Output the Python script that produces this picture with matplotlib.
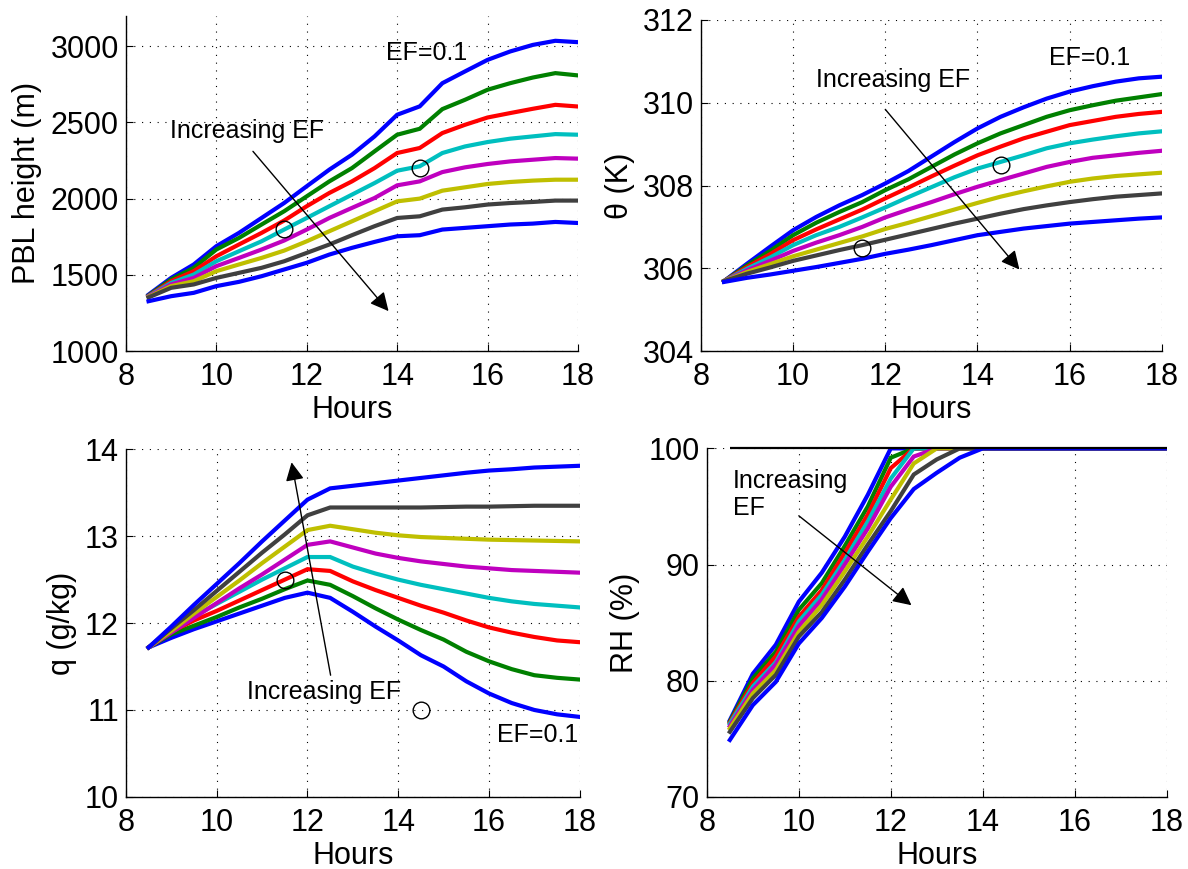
#!/usr/bin/env python3
"""Diurnal PBL growth for a range of evaporative fractions (EF), 4-panel figure."""

import matplotlib

matplotlib.use("Agg")

import matplotlib.pyplot as plt
import numpy as np

HOURS = [8.5, 9, 9.5, 10, 10.5, 11, 11.5, 12, 12.5, 13, 13.5, 14, 14.5, 15, 15.5, 16, 16.5, 17, 17.5, 18]

# MATLAB default colour order, EF=0.1 first
LINE_COLORS = ["#0000ff", "#008000", "#ff0000", "#00bfbf", "#bf00bf", "#bfbf00", "#404040", "#0000ff"]

PBL_HEIGHT = [
    [1370, 1480, 1568, 1688, 1775, 1873, 1971, 2081, 2190, 2288, 2408, 2550, 2605, 2757, 2834, 2910, 2965, 3008, 3035, 3026],
    [1365, 1470, 1546, 1666, 1742, 1830, 1917, 2015, 2113, 2200, 2310, 2419, 2458, 2587, 2648, 2714, 2757, 2794, 2823, 2808],
    [1362, 1458, 1524, 1622, 1699, 1775, 1856, 1950, 2037, 2113, 2200, 2299, 2332, 2430, 2484, 2532, 2561, 2589, 2615, 2604],
    [1360, 1447, 1502, 1589, 1655, 1720, 1797, 1873, 1950, 2026, 2102, 2183, 2212, 2299, 2342, 2371, 2393, 2408, 2423, 2419],
    [1358, 1437, 1480, 1557, 1611, 1666, 1725, 1797, 1873, 1939, 2004, 2087, 2113, 2174, 2205, 2227, 2244, 2255, 2266, 2262],
    [1355, 1426, 1458, 1524, 1568, 1611, 1659, 1720, 1786, 1851, 1917, 1982, 2000, 2052, 2074, 2096, 2109, 2118, 2124, 2124],
    [1352, 1415, 1437, 1480, 1513, 1546, 1589, 1644, 1699, 1760, 1819, 1873, 1884, 1928, 1943, 1961, 1971, 1978, 1987, 1987],
    [1327, 1360, 1382, 1426, 1454, 1491, 1535, 1579, 1633, 1677, 1716, 1753, 1760, 1797, 1808, 1819, 1830, 1836, 1847, 1840],
]

THETA = [
    [305.69, 306.11, 306.52, 306.92, 307.24, 307.52, 307.77, 308.05, 308.35, 308.70, 309.05, 309.38, 309.66, 309.89, 310.10, 310.27, 310.40, 310.51, 310.59, 310.63],
    [305.69, 306.07, 306.42, 306.80, 307.10, 307.36, 307.60, 307.89, 308.15, 308.45, 308.75, 309.02, 309.26, 309.46, 309.66, 309.82, 309.94, 310.05, 310.13, 310.21],
    [305.69, 306.03, 306.34, 306.68, 306.94, 307.18, 307.42, 307.69, 307.95, 308.22, 308.48, 308.73, 308.94, 309.14, 309.30, 309.46, 309.56, 309.66, 309.73, 309.78],
    [305.69, 305.99, 306.26, 306.56, 306.80, 307.00, 307.23, 307.47, 307.72, 307.96, 308.20, 308.41, 308.57, 308.73, 308.90, 309.02, 309.11, 309.19, 309.26, 309.31],
    [305.69, 305.95, 306.18, 306.42, 306.62, 306.80, 307.00, 307.23, 307.42, 307.60, 307.79, 307.97, 308.13, 308.29, 308.45, 308.57, 308.67, 308.73, 308.79, 308.84],
    [305.69, 305.91, 306.10, 306.29, 306.45, 306.61, 306.77, 306.95, 307.10, 307.26, 307.42, 307.58, 307.73, 307.86, 307.98, 308.09, 308.17, 308.23, 308.27, 308.31],
    [305.69, 305.87, 306.02, 306.18, 306.31, 306.44, 306.56, 306.69, 306.82, 306.95, 307.08, 307.20, 307.32, 307.43, 307.52, 307.60, 307.67, 307.73, 307.77, 307.81],
    [305.67, 305.77, 305.85, 305.94, 306.03, 306.13, 306.23, 306.35, 306.45, 306.56, 306.68, 306.80, 306.88, 306.96, 307.02, 307.08, 307.12, 307.16, 307.20, 307.23],
]

HUMIDITY = [
    [11.72, 11.83, 11.93, 12.02, 12.11, 12.20, 12.29, 12.35, 12.29, 12.13, 11.96, 11.80, 11.63, 11.50, 11.33, 11.19, 11.08, 11.00, 10.95, 10.92],
    [11.72, 11.87, 11.97, 12.07, 12.18, 12.28, 12.39, 12.49, 12.44, 12.31, 12.17, 12.04, 11.92, 11.81, 11.67, 11.56, 11.47, 11.40, 11.37, 11.35],
    [11.72, 11.90, 12.03, 12.14, 12.26, 12.38, 12.50, 12.62, 12.60, 12.48, 12.38, 12.29, 12.20, 12.12, 12.03, 11.95, 11.89, 11.84, 11.80, 11.78],
    [11.72, 11.92, 12.08, 12.22, 12.36, 12.50, 12.63, 12.76, 12.76, 12.65, 12.57, 12.50, 12.44, 12.39, 12.34, 12.29, 12.25, 12.22, 12.20, 12.18],
    [11.72, 11.89, 12.06, 12.23, 12.40, 12.56, 12.73, 12.90, 12.94, 12.87, 12.80, 12.75, 12.71, 12.68, 12.65, 12.63, 12.61, 12.60, 12.59, 12.58],
    [11.72, 11.91, 12.11, 12.30, 12.49, 12.69, 12.88, 13.07, 13.12, 13.08, 13.04, 13.01, 12.99, 12.98, 12.97, 12.96, 12.955, 12.95, 12.945, 12.94],
    [11.72, 11.94, 12.15, 12.37, 12.59, 12.81, 13.02, 13.24, 13.33, 13.33, 13.33, 13.33, 13.33, 13.335, 13.34, 13.34, 13.345, 13.35, 13.35, 13.35],
    [11.72, 11.96, 12.21, 12.45, 12.69, 12.94, 13.18, 13.42, 13.55, 13.58, 13.61, 13.64, 13.67, 13.70, 13.73, 13.755, 13.77, 13.79, 13.80, 13.81],
]

REL_HUMIDITY = [
    [76.6, 80.6, 83.1, 86.8, 89.3, 92.4, 96.0, 100, 100, 100, 100, 100, 100, 100, 100, 100, 100, 100, 100, 100],
    [76.5, 80.2, 82.5, 86.1, 88.4, 91.6, 95.0, 99.2, 100, 100, 100, 100, 100, 100, 100, 100, 100, 100, 100, 100],
    [76.4, 79.8, 82.1, 85.5, 87.8, 91.0, 94.3, 98.3, 100, 100, 100, 100, 100, 100, 100, 100, 100, 100, 100, 100],
    [76.3, 79.5, 81.6, 85.1, 87.4, 90.4, 93.7, 97.4, 100, 100, 100, 100, 100, 100, 100, 100, 100, 100, 100, 100],
    [76.1, 79.2, 81.4, 84.7, 87.0, 90.0, 93.1, 96.7, 99.3, 100, 100, 100, 100, 100, 100, 100, 100, 100, 100, 100],
    [75.9, 78.9, 80.9, 84.2, 86.5, 89.4, 92.4, 95.6, 98.7, 100, 100, 100, 100, 100, 100, 100, 100, 100, 100, 100],
    [75.6, 78.5, 80.5, 83.8, 85.9, 88.7, 91.7, 94.6, 97.75, 99.05, 100, 100, 100, 100, 100, 100, 100, 100, 100, 100],
    [74.9, 77.9, 79.9, 83.2, 85.4, 88.1, 91.1, 94.0, 96.5, 97.9, 99.2, 100, 100, 100, 100, 100, 100, 100, 100, 100],
]
RH_SATURATION = 100

# observed points (circles)
PBL_OBS_X, PBL_OBS_Y = [11.5, 14.5], [1800, 2200]
THETA_OBS_X, THETA_OBS_Y = [11.5, 14.5], [306.5, 308.5]
Q_OBS_X, Q_OBS_Y = [11.5, 14.5], [12.5, 11.0]

NOTE_SIZE = 18


def setup_style() -> None:
    plt.rcParams.update(
        {
            "font.family": ["Liberation Sans", "DejaVu Sans"],
            "font.size": 22,
            "axes.labelsize": 22,
            "xtick.labelsize": 22,
            "ytick.labelsize": 22,
            "axes.linewidth": 1.0,
            "axes.spines.top": False,
            "axes.spines.right": False,
            "xtick.direction": "in",
            "ytick.direction": "in",
            "xtick.major.size": 5,
            "ytick.major.size": 5,
            "xtick.major.pad": 8,
            "ytick.major.pad": 5,
        }
    )


def style_axes(ax, ylim, yticks, ylabel):
    ax.set_xlim(8, 18)
    ax.set_xticks(np.arange(8, 19, 2))
    ax.set_ylim(*ylim)
    ax.set_yticks(yticks)
    ax.set_xlabel("Hours", labelpad=2)
    ax.set_ylabel(ylabel, labelpad=6)
    ax.grid(True, color="black", linestyle=(0, (1, 6)), linewidth=0.8)
    ax.set_axisbelow(True)


def plot_family(ax, series):
    for values, color in zip(series, LINE_COLORS):
        ax.plot(HOURS, values, color=color, linewidth=3.0, solid_joinstyle="miter")


def arrow(ax, start, end):
    ax.annotate(
        "",
        xy=end,
        xytext=start,
        arrowprops=dict(arrowstyle="-|>", color="black", lw=1.0, mutation_scale=28, shrinkA=0, shrinkB=0),
    )


def main() -> None:
    setup_style()
    fig = plt.figure(figsize=(11.88, 8.69), dpi=100)

    # (a) PBL height
    ax = fig.add_axes([0.106, 0.596, 0.3805, 0.386])
    plot_family(ax, PBL_HEIGHT)
    ax.plot(PBL_OBS_X, PBL_OBS_Y, "o", mfc="none", mec="black", ms=12, mew=1.0)
    style_axes(ax, (1000, 3200), np.arange(1000, 3001, 500), "PBL height (m)")
    ax.text(10.68, 2441, "Increasing EF", ha="center", va="center", fontsize=NOTE_SIZE)
    ax.text(14.66, 2954, "EF=0.1", ha="center", va="center", fontsize=NOTE_SIZE)
    arrow(ax, (10.81, 2310), (13.81, 1262))

    # (b) potential temperature
    ax = fig.add_axes([0.590, 0.596, 0.388, 0.381])
    plot_family(ax, THETA)
    ax.plot(THETA_OBS_X, THETA_OBS_Y, "o", mfc="none", mec="black", ms=12, mew=1.0)
    style_axes(ax, (304, 312), np.arange(304, 313, 2), "θ (K)")
    ax.text(12.17, 310.55, "Increasing EF", ha="center", va="center", fontsize=NOTE_SIZE)
    ax.text(16.43, 311.07, "EF=0.1", ha="center", va="center", fontsize=NOTE_SIZE)
    arrow(ax, (12.0, 309.84), (14.91, 305.97))

    # (c) specific humidity
    ax = fig.add_axes([0.106, 0.083, 0.382, 0.400])
    plot_family(ax, HUMIDITY)
    ax.plot(Q_OBS_X, Q_OBS_Y, "o", mfc="none", mec="black", ms=12, mew=1.0)
    style_axes(ax, (10, 14), np.arange(10, 15, 1), "q (g/kg)")
    ax.text(12.36, 11.21, "Increasing EF", ha="center", va="center", fontsize=NOTE_SIZE)
    ax.text(17.07, 10.71, "EF=0.1", ha="center", va="center", fontsize=NOTE_SIZE)
    arrow(ax, (12.51, 11.40), (11.65, 13.85))

    # (d) relative humidity
    ax = fig.add_axes([0.595, 0.083, 0.387, 0.401])
    plot_family(ax, REL_HUMIDITY)
    ax.hlines(RH_SATURATION, HOURS[0], HOURS[-1], color="black", linewidth=1.6, clip_on=False, zorder=3)
    style_axes(ax, (70, 100), np.arange(70, 101, 10), "RH (%)")
    ax.text(8.57, 98.2, "Increasing\nEF", ha="left", va="top", fontsize=NOTE_SIZE, linespacing=1.15)
    arrow(ax, (10.0, 94.2), (12.45, 86.5))

    fig.savefig("out.png", dpi=100)
    plt.close(fig)


if __name__ == "__main__":
    main()
